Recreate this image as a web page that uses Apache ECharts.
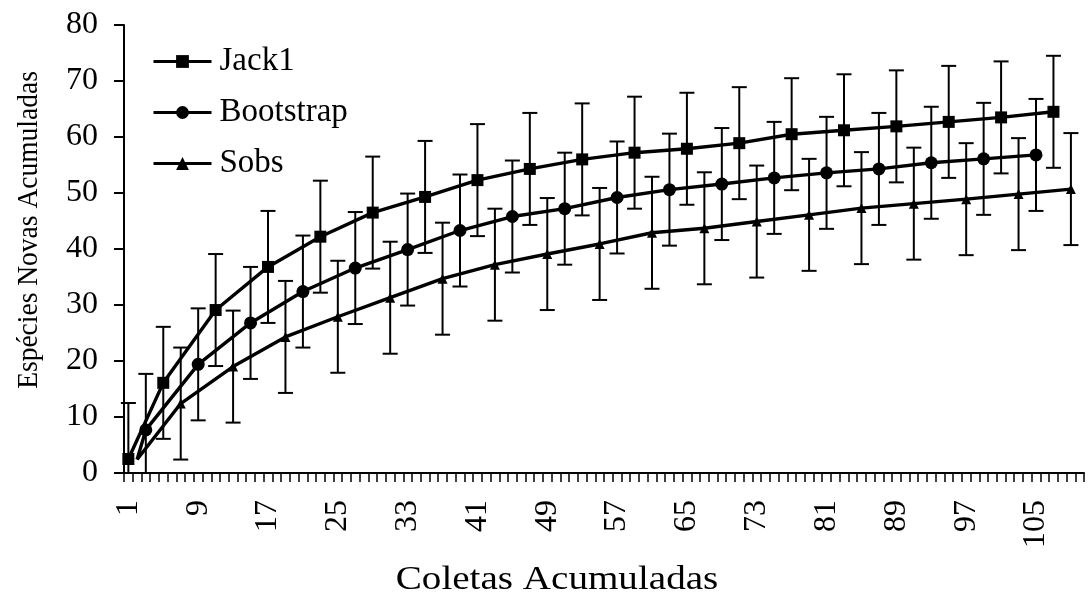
<!DOCTYPE html>
<html>
<head>
<meta charset="utf-8">
<script src="https://cdn.jsdelivr.net/npm/echarts@6/dist/echarts.min.js"></script>
<style>html,body{margin:0;padding:0;background:#fff;}#c{width:1089px;height:599px;}</style>
</head>
<body>
<div id="c"></div>
<script>
// Category labels (1..110 collections)
const categories = Array.from({length: 110}, (_, i) => String(i + 1));

// Jack1
const jackX = [1, 5, 11, 17, 23, 29, 35, 41, 47, 53, 59, 65, 71, 77, 83, 89, 95, 101, 107];
const jackY = [2.5, 16.1, 29.1, 36.8, 42.2, 46.5, 49.3, 52.3, 54.3, 56.0, 57.2, 57.9, 58.9, 60.5, 61.2, 61.9, 62.7, 63.5, 64.5];
const jackErr = [10, 10, 10, 10, 10, 10, 10, 10, 10, 10, 10, 10, 10, 10, 10, 10, 10, 10, 10];

// Bootstrap (first point has no marker / error bar)
const bootX = [2, 3, 9, 15, 21, 27, 33, 39, 45, 51, 57, 63, 69, 75, 81, 87, 93, 99, 105];
const bootY = [2.4, 7.7, 19.4, 26.8, 32.4, 36.6, 39.9, 43.3, 45.8, 47.2, 49.2, 50.6, 51.6, 52.7, 53.6, 54.3, 55.4, 56.1, 56.8];
const bootErr = [null, 10, 10, 10, 10, 10, 10, 10, 10, 10, 10, 10, 10, 10, 10, 10, 10, 10, 10];

// Sobs (first point has no marker / error bar)
const sobsX = [2, 7, 13, 19, 25, 31, 37, 43, 49, 55, 61, 67, 73, 79, 85, 91, 97, 103, 109];
const sobsY = [2.4, 12.4, 19.0, 24.3, 27.9, 31.3, 34.7, 37.2, 39.1, 40.9, 42.9, 43.7, 44.9, 46.1, 47.3, 48.1, 48.9, 49.8, 50.7];
const sobsErr = [null, 10, 10, 10, 10, 10, 10, 10, 10, 10, 10, 10, 10, 10, 10, 10, 10, 10, 10];

const FONT = 'Liberation Serif';

function lineData(xs, ys, errs) {
  return xs.map((x, i) => {
    const item = {value: [x - 1, ys[i]]};
    if (errs[i] == null) item.symbol = 'none';
    return item;
  });
}
function errData(xs, ys, errs) {
  const out = [];
  xs.forEach((x, i) => {
    if (errs[i] != null) out.push([x - 1, ys[i] - errs[i], ys[i] + errs[i]]);
  });
  return out;
}
function renderErr(params, api) {
  const x = api.value(0), lo = api.value(1), hi = api.value(2);
  const top = api.coord([x, hi]);
  const bot = api.coord([x, lo]);
  const cs = params.coordSys;
  const yMax = cs.y + cs.height;
  const by = Math.min(bot[1], yMax);
  const hw = 7.5;
  const st = {stroke: '#000', lineWidth: 2};
  const children = [
    {type: 'line', shape: {x1: top[0], y1: top[1], x2: top[0], y2: by}, style: st},
    {type: 'line', shape: {x1: top[0] - hw, y1: top[1], x2: top[0] + hw, y2: top[1]}, style: st}
  ];
  if (bot[1] <= yMax) {
    children.push({type: 'line', shape: {x1: bot[0] - hw, y1: bot[1], x2: bot[0] + hw, y2: bot[1]}, style: st});
  }
  return {type: 'group', children: children};
}

const chart = echarts.init(document.getElementById('c'), null, {renderer: 'canvas'});
const lineBase = {
  type: 'line',
  connectNulls: true,
  showSymbol: true,
  showAllSymbol: true,
  lineStyle: {color: '#000', width: 3.4},
  itemStyle: {color: '#000'},
  animation: false,
  z: 3
};
chart.setOption({
  backgroundColor: '#fff',
  animation: false,
  grid: {left: 124, right: 5, top: 25, bottom: 126},
  legend: {
    orient: 'vertical',
    left: 147,
    top: 40,
    itemWidth: 58,
    itemHeight: 16,
    itemGap: 18,
    lineStyle: {width: 3},
    textStyle: {fontFamily: FONT, fontSize: 33, color: '#000', lineHeight: 32, padding: [0, 0, 0, 3]},
    data: ['Jack1', 'Bootstrap', 'Sobs']
  },
  xAxis: {
    type: 'category',
    data: categories,
    boundaryGap: true,
    axisLine: {lineStyle: {color: '#000', width: 2}},
    axisTick: {show: true, interval: 0, length: 9, lineStyle: {color: '#000', width: 1.5}},
    axisLabel: {interval: 7, rotate: 90, margin: 27, fontFamily: FONT, fontSize: 32, color: '#000'},
    splitLine: {show: false}
  },
  yAxis: {
    type: 'value',
    min: 0,
    max: 80,
    interval: 10,
    axisLine: {show: true, lineStyle: {color: '#000', width: 2}},
    axisTick: {show: true, length: 10, lineStyle: {color: '#000', width: 2}},
    axisLabel: {margin: 26, fontFamily: FONT, fontSize: 32, color: '#000'},
    splitLine: {show: false}
  },
  graphic: [
    {type: 'text', x: 29, y: 230, rotation: Math.PI / 2, scaleY: 1.1,
      style: {text: 'Espécies Novas Acumuladas', font: '27.5px "Liberation Serif"', fill: '#000', align: 'center', verticalAlign: 'middle'}},
    {type: 'text', x: 557, y: 580, scaleX: 1.15,
      style: {text: 'Coletas Acumuladas', font: '34px "Liberation Serif"', fill: '#000', align: 'center', verticalAlign: 'middle'}}
  ],
  series: [
    Object.assign({}, lineBase, {name: 'Jack1', symbol: 'rect', symbolSize: 12, data: lineData(jackX, jackY, jackErr)}),
    Object.assign({}, lineBase, {name: 'Bootstrap', symbol: 'circle', symbolSize: 13, data: lineData(bootX, bootY, bootErr)}),
    Object.assign({}, lineBase, {name: 'Sobs', symbol: 'triangle', symbolSize: 10, data: lineData(sobsX, sobsY, sobsErr)}),
    {type: 'custom', name: 'Jack1 err', renderItem: renderErr, data: errData(jackX, jackY, jackErr), z: 2, silent: true, animation: false},
    {type: 'custom', name: 'Bootstrap err', renderItem: renderErr, data: errData(bootX, bootY, bootErr), z: 2, silent: true, animation: false},
    {type: 'custom', name: 'Sobs err', renderItem: renderErr, data: errData(sobsX, sobsY, sobsErr), z: 2, silent: true, animation: false}
  ]
});
</script>
</body>
</html>
